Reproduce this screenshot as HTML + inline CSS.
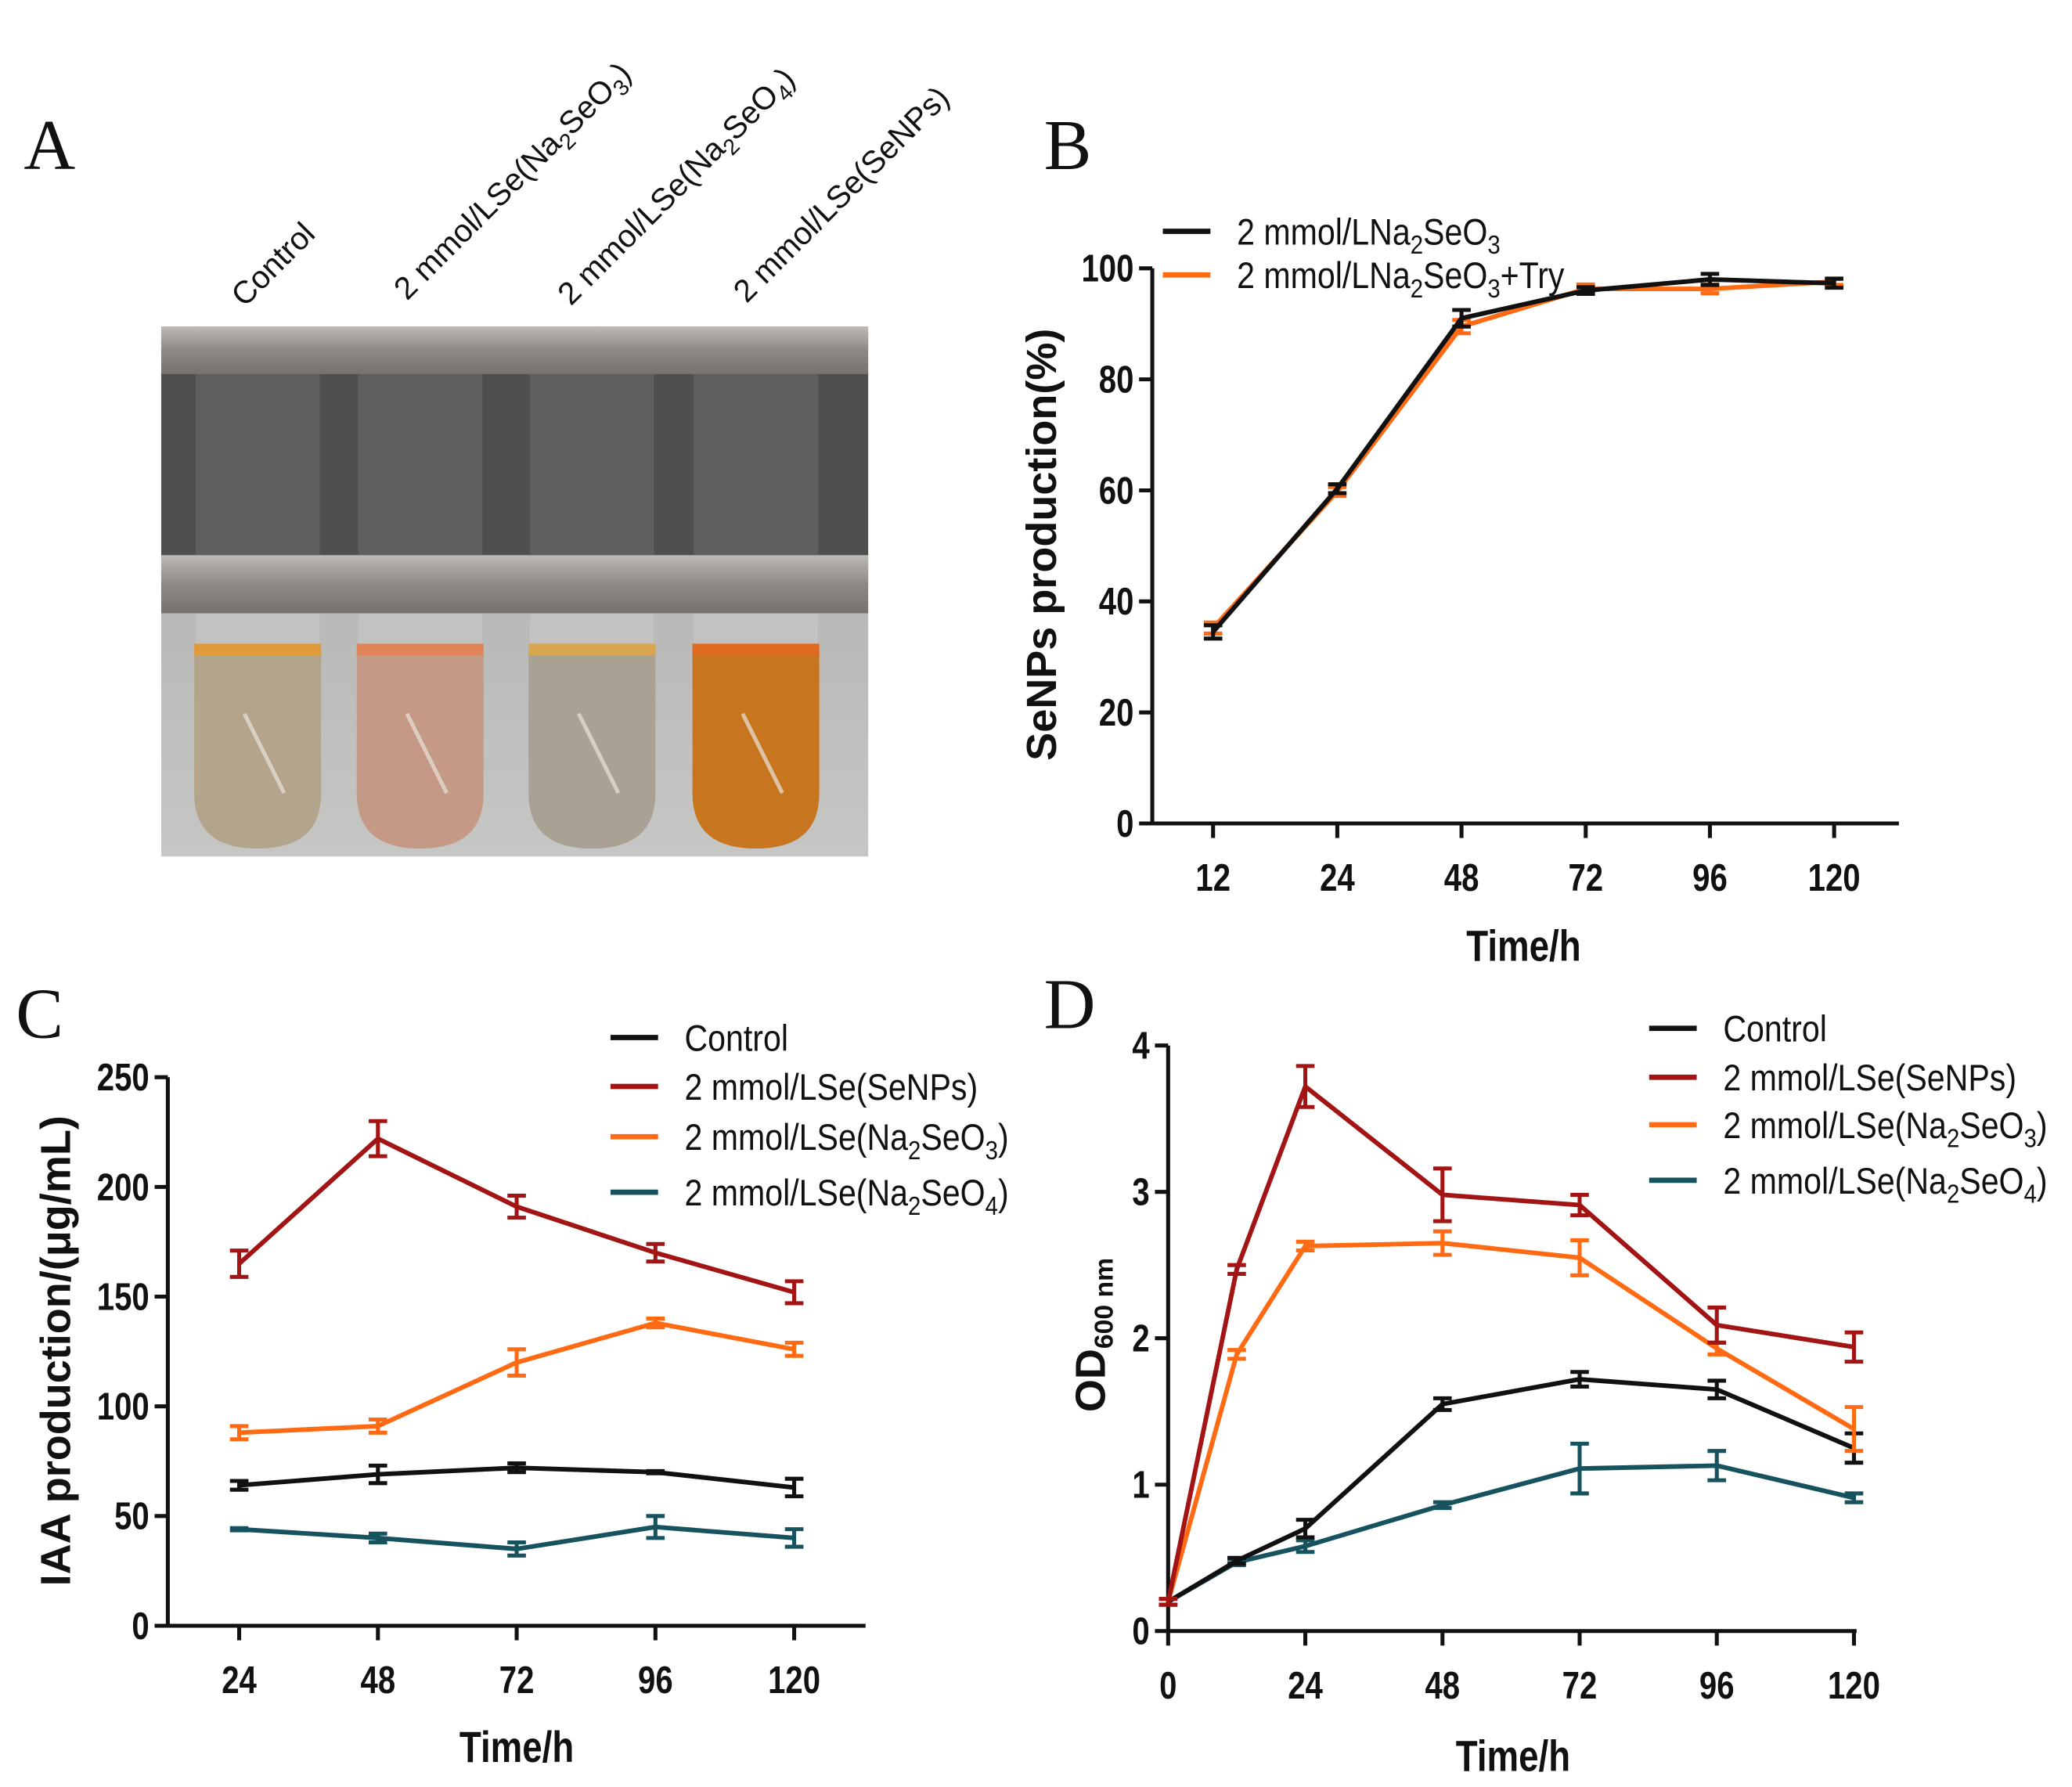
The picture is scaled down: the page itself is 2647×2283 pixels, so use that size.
<!DOCTYPE html>
<html><head><meta charset="utf-8"><style>
html,body{margin:0;padding:0;background:#fff;}
svg{display:block;}
.tk{font-family:"Liberation Sans",sans-serif;font-weight:bold;font-size:29px;fill:#111;}
.lg{font-family:"Liberation Sans",sans-serif;font-size:28px;fill:#111;}
.ttl{font-family:"Liberation Sans",sans-serif;font-weight:bold;font-size:33px;fill:#111;}
.yt{font-family:"Liberation Sans",sans-serif;font-weight:bold;font-size:32px;fill:#111;}
.pl{font-family:"Liberation Serif",serif;font-size:54px;fill:#111;}
.al{font-family:"Liberation Sans",sans-serif;font-size:24px;fill:#111;}
</style></head><body>
<svg id="fig" width="2647" height="2283" viewBox="0 0 1568 1352" preserveAspectRatio="none" xmlns="http://www.w3.org/2000/svg">
<defs>
<linearGradient id="gBg" x1="0" y1="0" x2="0" y2="1"><stop offset="0" stop-color="#a9a9a8"/><stop offset="1" stop-color="#c6c6c4"/></linearGradient>
<linearGradient id="gBar" x1="0" y1="0" x2="0" y2="1"><stop offset="0" stop-color="#bdb9b4"/><stop offset="0.5" stop-color="#8d8984"/><stop offset="1" stop-color="#76736f"/></linearGradient>
</defs>
<g>
<text class="pl" x="18" y="128">A</text>
<text class="al" transform="translate(185,233) rotate(-45)">Control</text>
<text class="al" transform="translate(308,228) rotate(-45)">2 mmol/LSe(Na<tspan font-size="17" dy="6">2</tspan><tspan dy="-6">SeO</tspan><tspan font-size="17" dy="6">3</tspan><tspan dy="-6">)</tspan></text>
<text class="al" transform="translate(432,232) rotate(-45)">2 mmol/LSe(Na<tspan font-size="17" dy="6">2</tspan><tspan dy="-6">SeO</tspan><tspan font-size="17" dy="6">4</tspan><tspan dy="-6">)</tspan></text>
<text class="al" transform="translate(565,230) rotate(-45)">2 mmol/LSe(SeNPs)</text>
<g>
<rect x="122" y="247" width="535" height="401" fill="url(#gBg)"/>
<rect x="122" y="282" width="535" height="140" fill="#4f4f4f"/>
<rect x="122" y="247" width="535" height="36" fill="url(#gBar)"/>
<rect x="122" y="420" width="535" height="44" fill="url(#gBar)"/>
<g id="tubes"></g>
</g>
</g>
<g id="pb"></g>
<g id="pc"></g>
<g id="pd"></g>
</svg>
<script>
// ---- Panel B data ----
const bCats = ["12","24","48","72","96","120"];
const bSeO3 = [34.5, 60.3, 91, 96, 98, 97.3];
const bSeO3Err = [1.2, 0.8, 1.5, 0.6, 1.0, 0.8];
const bTry = [35.2, 59.8, 89.5, 96.3, 96.3, 97.6];
const bTryErr = [1.0, 0.8, 1.2, 0.8, 0.8, 0.6];
const bTicks = [0,20,40,60,80,100];
// ---- Panel C data ----
const cCats = [24,48,72,96,120];
const cControl = [64, 69, 72, 70, 63];
const cControlErr = [2, 4, 2, 0.5, 4];
const cSeNPs = [165, 222, 191, 170, 152];
const cSeNPsErr = [6, 8, 5, 4, 5];
const cSeO3 = [88, 91, 120, 138, 126];
const cSeO3Err = [3, 3, 6, 2, 3];
const cSeO4 = [44, 40, 35, 45, 40];
const cSeO4Err = [0.5, 2, 3, 5, 4];
const cTicks = [0,50,100,150,200,250];
// ---- Panel D data ----
const dX = [0,12,24,48,72,96,120];
const dControl = [0.2, 0.48, 0.7, 1.55, 1.72, 1.65, 1.25];
const dControlErr = [0.02, 0.02, 0.06, 0.04, 0.05, 0.06, 0.1];
const dSeNPs = [0.2, 2.47, 3.72, 2.98, 2.91, 2.09, 1.94];
const dSeNPsErr = [0.02, 0.03, 0.14, 0.18, 0.07, 0.12, 0.1];
const dSeO3 = [0.2, 1.89, 2.63, 2.65, 2.55, 1.93, 1.38];
const dSeO3Err = [0.02, 0.03, 0.03, 0.08, 0.12, 0.04, 0.15];
const dSeO4 = [0.2, 0.47, 0.58, 0.86, 1.11, 1.13, 0.91];
const dSeO4Err = [0.02, 0.02, 0.04, 0.02, 0.17, 0.1, 0.03];
const dXTicks = [0,24,48,72,96,120];
const dYTicks = [0,1,2,3,4];

const NS="http://www.w3.org/2000/svg";
function mk(parent,tag,attrs){const e=document.createElementNS(NS,tag);for(const k in attrs)e.setAttribute(k,attrs[k]);parent.appendChild(e);return e;}
function ntext(parent,cls,x,y,anchor,sx,rot){
  const tr=rot!==undefined?`translate(${x},${y}) rotate(${rot}) scale(${sx},1)`:`translate(${x},${y}) scale(${sx},1)`;
  return mk(parent,'text',{x:0,y:0,class:cls,'text-anchor':anchor,transform:tr});
}

const tubes=document.getElementById('tubes');
const tubeCx=[195,318,448,572];
const liquid=["#b3a48c","#c49a86","#a9a193","#c7761f"];
const meniscus=["#e09a3a","#e0855a","#d9a650","#e06a20"];
tubeCx.forEach((cx,i)=>{
  const g=mk(tubes,'g',{});
  
  
  mk(g,'rect',{x:cx-47,y:283,width:94,height:137,fill:"#6a6a6a",opacity:0.6});
  mk(g,'rect',{x:cx-47,y:464,width:94,height:30,fill:"#c8c8c6",opacity:0.6});
  mk(g,'path',{d:`M${cx-48},492 L${cx+48},492 L${cx+48},600 Q${cx+48},642 ${cx},642 Q${cx-48},642 ${cx-48},600 Z`,fill:liquid[i]});
  mk(g,'rect',{x:cx-48,y:487,width:96,height:9,fill:meniscus[i]});
  mk(g,'path',{d:`M${cx-10},540 Q${cx+5},570 ${cx+20},600`,stroke:"#e8e2da",'stroke-width':3,fill:"none",opacity:0.7});
});

function drawAxes(g,o){
  const ax=mk(g,'g',{});
  
  
  mk(ax,'line',{x1:o.axX,y1:o.axTop,x2:o.axX,y2:o.axY+1.5,stroke:"#111",'stroke-width':3});
  mk(ax,'line',{x1:o.axX-1.5,y1:o.axY,x2:o.axRight,y2:o.axY,stroke:"#111",'stroke-width':3});
  o.yt.forEach(v=>{const y=o.sy(v);mk(ax,'line',{x1:o.axX-10,y1:y,x2:o.axX,y2:y,stroke:"#111",'stroke-width':3});
    const t=ntext(ax,'tk',o.axX-14,y+10,'end',0.82);t.textContent=v;
    
    });
  o.xt.forEach((v,i)=>{const x=o.xpos(v,i);mk(ax,'line',{x1:x,y1:o.axY,x2:x,y2:o.axY+11,stroke:"#111",'stroke-width':3});
    const t=ntext(ax,'tk',x,o.axY+51,'middle',0.82);t.textContent=v;
    
    });
}
function series(g,xs,ys,es,sx,sy,color,name){
  const s=mk(g,'g',{});
  
  
  mk(s,'polyline',{points:xs.map((x,i)=>sx(x,i)+','+sy(ys[i])).join(' '),fill:'none',stroke:color,'stroke-width':3.5,'stroke-linejoin':'round'});
  xs.forEach((x,i)=>{const cx=sx(x,i),t=sy(ys[i]+es[i]),b=sy(ys[i]-es[i]);
    mk(s,'path',{d:`M${cx},${t} L${cx},${b} M${cx-7},${t} L${cx+7},${t} M${cx-7},${b} L${cx+7},${b}`,stroke:color,'stroke-width':3,fill:'none'});});
}
function legend(g,x,ys,items){
  items.forEach((it,i)=>{const l=mk(g,'g',{});
    
    
    mk(l,'line',{x1:x,y1:ys[i],x2:x+36,y2:ys[i],stroke:it[0],'stroke-width':4});
    const t=ntext(l,'lg',x+56,ys[i]+10,'start',0.87);t.innerHTML=it[1];});
}
function label(g,txt,x,y,cls,name,anchor,sx,rot){
  const t=ntext(g,cls,x,y,anchor,sx,rot);
  t.innerHTML=txt;
  
  
  return t;
}
const sub=(s)=>`<tspan font-size="20" dy="7">${s}</tspan><tspan dy="-7">`;
const na2seo3=`2 mmol/LSe(Na${sub(2)}SeO${sub(3)})</tspan></tspan>`;
const na2seo4=`2 mmol/LSe(Na${sub(2)}SeO${sub(4)})</tspan></tspan>`;

(function(){
  const g=document.getElementById('pb');
  const ys=v=>623-v/100*(623-203);
  const xpos=(c,i)=>918+i*94;
  label(g,'B',790,128,'pl','panel-b-label','start',1);
  drawAxes(g,{axX:872,axTop:203,axY:623,axRight:1437,yt:bTicks,sy:ys,xt:bCats,xpos:xpos});
  series(g,bCats,bTry,bTryErr,xpos,ys,'#ff6a13','series-try');
  series(g,bCats,bSeO3,bSeO3Err,xpos,ys,'#111','series-na2seo3');
  legend(g,880,[175,208],[['#111',`2 mmol/LNa${sub(2)}SeO${sub(3)}</tspan></tspan>`],['#ff6a13',`2 mmol/LNa${sub(2)}SeO${sub(3)}+Try</tspan></tspan>`]]);
  label(g,'Time/h',1153,727,'ttl','x-axis-title','middle',0.82);
  label(g,'SeNPs production(%)',799,412,'yt','y-axis-title','middle',1,-90);
})();
(function(){
  const g=document.getElementById('pc');
  const ys=v=>1230-v/250*(1230-815);
  const xs=v=>181+(v-24)/96*420;
  label(g,'C',12,785,'pl','panel-c-label','start',1);
  drawAxes(g,{axX:127,axTop:815,axY:1230,axRight:655,yt:cTicks,sy:ys,xt:cCats,xpos:v=>xs(v)});
  series(g,cCats,cSeO4,cSeO4Err,xs,ys,'#17525f','series-na2seo4');
  series(g,cCats,cControl,cControlErr,xs,ys,'#111','series-control');
  series(g,cCats,cSeO3,cSeO3Err,xs,ys,'#ff6a13','series-na2seo3');
  series(g,cCats,cSeNPs,cSeNPsErr,xs,ys,'#a31515','series-senps');
  legend(g,462,[785,822,860,902],[['#111','Control'],['#a31515','2 mmol/LSe(SeNPs)'],['#ff6a13',na2seo3],['#17525f',na2seo4]]);
  label(g,'Time/h',391,1333,'ttl','x-axis-title','middle',0.82);
  label(g,'IAA production/(μg/mL)',53,1022,'yt','y-axis-title','middle',1,-90);
})();
(function(){
  const g=document.getElementById('pd');
  const ys=v=>1234-v/4*(1234-791);
  const xs=v=>884+v/120*519;
  label(g,'D',790,778,'pl','panel-d-label','start',1);
  drawAxes(g,{axX:884,axTop:791,axY:1234,axRight:1405,yt:dYTicks,sy:ys,xt:dXTicks,xpos:v=>xs(v)});
  series(g,dX,dSeO4,dSeO4Err,xs,ys,'#17525f','series-na2seo4');
  series(g,dX,dControl,dControlErr,xs,ys,'#111','series-control');
  series(g,dX,dSeO3,dSeO3Err,xs,ys,'#ff6a13','series-na2seo3');
  series(g,dX,dSeNPs,dSeNPsErr,xs,ys,'#a31515','series-senps');
  legend(g,1248,[778,815,851,893],[['#111','Control'],['#a31515','2 mmol/LSe(SeNPs)'],['#ff6a13',na2seo3],['#17525f',na2seo4]]);
  label(g,'Time/h',1145,1340,'ttl','x-axis-title','middle',0.82);
  label(g,'OD<tspan font-size="20" dy="6">600 nm</tspan>',836,1010,'yt','y-axis-title','middle',1,-90);
})();
</script>
</body></html>
